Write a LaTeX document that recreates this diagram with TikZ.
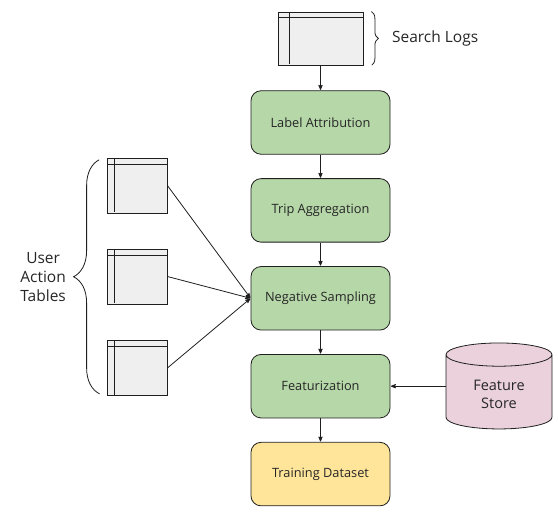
\documentclass[tikz,border=0pt]{standalone}
\usepackage{fontspec}
\setmainfont{Open Sans}
\usetikzlibrary{arrows, positioning, shapes.geometric, decorations.pathreplacing}
\definecolor{boxgreen}{HTML}{B6D7A8}
\definecolor{boxyellow}{HTML}{FFE599}
\definecolor{storepink}{HTML}{EAD1DC}
\definecolor{tablegray}{HTML}{EFEFEF}
\definecolor{linegray}{HTML}{1F1F1F}
\definecolor{textgray}{HTML}{262626}

\begin{document}
\begin{tikzpicture}[x=1pt, y=-1pt, ->, >=stealth', shorten >=0.5pt, line width=0.8pt, node distance=23.6pt,
    main node/.style={rectangle, rounded corners=10pt, draw=linegray, fill=boxgreen, text=textgray, minimum width=139pt, minimum height=63.5pt, font=\fontsize{12.8}{15}\selectfont},
    table node/.style 2 args={rectangle, draw=linegray, fill=tablegray, inner sep=0pt, path picture={
        \draw[-, linegray] ([yshift=-#1]path picture bounding box.north west) -- ([yshift=-#1]path picture bounding box.north east);
        \draw[-, linegray] ([xshift=#2]path picture bounding box.north west) -- ([xshift=#2]path picture bounding box.south west);}},
    brace label/.style={font=\fontsize{15.5}{19}\selectfont, align=center, text=textgray}]
    \useasboundingbox (0,0) rectangle (558,518);
    \node[main node] (LA) at (320.5,122.5) {Label Attribution};
    \node[main node] (TA) [below=of LA] {Trip Aggregation};
    \node[main node] (NS) [below=of TA] {Negative Sampling};
    \node[main node] (F) [below=of NS] {Featurization};
    \node[main node, fill=boxyellow] (TD) [below=of F] {Training Dataset};
    \node[table node={5pt}{11pt}, minimum width=85pt, minimum height=53pt] (S) [above=25pt of LA] {};
    \node[cylinder, shape border rotate=90, aspect=0.4, draw=linegray, fill=storepink, text=textgray, minimum width=106pt, minimum height=86pt, align=center, font=\fontsize{14.5}{18}\selectfont] (FS) at (499,394) {Feature\\Store};
    % user action tables on the left
    \node[table node={6pt}{7pt}, minimum width=60pt, minimum height=55pt] (U1) at (137,185.5) {};
    \node[table node={6pt}{7pt}, minimum width=60pt, minimum height=55pt] (U2) at (137,276.5) {};
    \node[table node={6pt}{7pt}, minimum width=60pt, minimum height=55pt] (U3) at (137,368) {};
    \path[linegray]
        (S) edge (LA)
        (LA) edge (TA)
        (TA) edge (NS)
        (NS) edge (F)
        (F) edge (TD)
        (FS.west |- F.east) edge (F.east)
        (U1.east) edge (NS.west)
        (U2.east) edge (NS.west)
        (U3.east) edge (NS.west);
    \draw[-, linegray, decorate, decoration={brace, amplitude=7pt}] ([xshift=8pt]S.north east) -- ([xshift=8pt]S.south east)
        node[midway, right=17pt, brace label] (SL) {Search Logs};
    \draw[-, linegray, decorate, decoration={brace, amplitude=26pt}] ([xshift=-7pt, yshift=2pt]U3.south west) -- ([xshift=-7pt, yshift=-2pt]U1.north west)
        node[midway, left=30pt, brace label] (UA) {User\\Action\\Tables};
\end{tikzpicture}
\end{document}
